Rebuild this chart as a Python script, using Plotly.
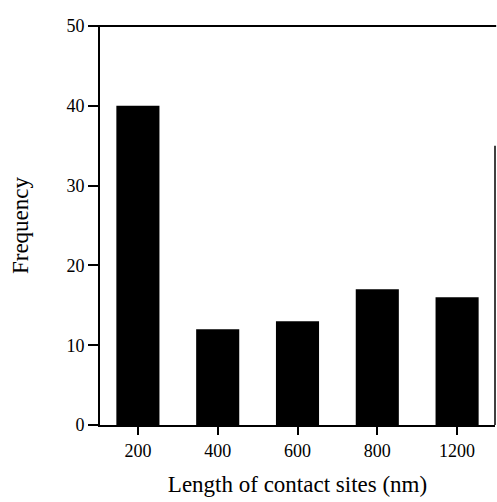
import plotly.graph_objects as go

categories = ["200", "400", "600", "800", "1200"]
frequency = [40, 12, 13, 17, 16]
y_ticks = [0, 10, 20, 30, 40, 50]

fig = go.Figure()
fig.add_trace(go.Bar(x=categories, y=frequency, marker=dict(color="black", line=dict(width=0)), width=0.54))

font_family = "Liberation Serif, Times New Roman, serif"
fig.update_layout(
    width=497, height=502,
    margin=dict(l=100, r=2, t=26, b=77),
    plot_bgcolor="white", paper_bgcolor="white",
    showlegend=False,
    font=dict(family=font_family, color="black", size=18),
    xaxis=dict(
        type="category", range=[-0.475, 4.475],
        showline=True, linecolor="black", linewidth=2,
        ticks="outside", ticklen=8, tickwidth=2, tickcolor="black",
        tickfont=dict(size=18),
        title=dict(text="Length of contact sites (nm)", font=dict(size=23), standoff=16),
        showgrid=False, zeroline=False,
    ),
    yaxis=dict(
        range=[0, 50], tickvals=y_ticks,
        showline=True, linecolor="black", linewidth=2,
        ticks="outside", ticklen=10, tickwidth=2, tickcolor="black",
        tickfont=dict(size=18),
        title=dict(text="Frequency", font=dict(size=23), standoff=31),
        showgrid=False, zeroline=False,
    ),
)
# top border line
fig.add_shape(type="line", xref="paper", yref="paper", x0=-0.025, x1=1.003, y0=1, y1=1,
              line=dict(color="black", width=2))
# partial right border line (0 to 35 on the frequency scale)
fig.add_shape(type="line", xref="paper", yref="paper", x0=1.0, x1=1.0, y0=0, y1=35 / 50,
              line=dict(color="black", width=1.5))
fig.write_html("out.html", config={"displayModeBar": False},
               post_script="document.body.style.margin='0';document.body.style.overflow='hidden';")
